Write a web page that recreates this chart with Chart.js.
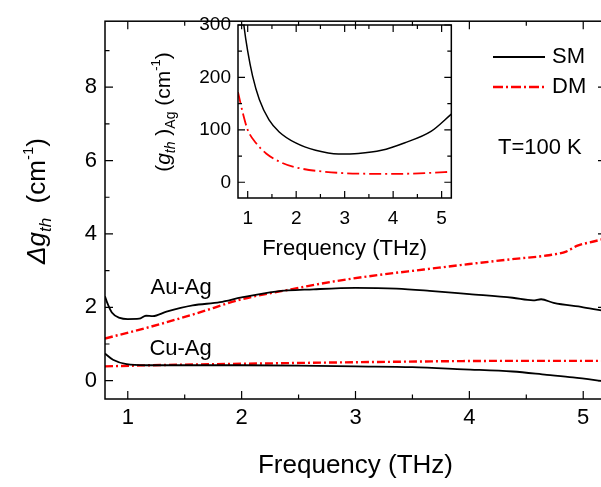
<!DOCTYPE html>
<html>
<head>
<meta charset="utf-8">
<script src="https://cdn.jsdelivr.net/npm/chart.js@4.4.1/dist/chart.umd.min.js"></script>
<style>
  html, body { margin: 0; padding: 0; background: #fff; overflow: hidden; }
  #wrap { position: relative; width: 601px; height: 487px; overflow: hidden; }
  #mainBox { position: absolute; left: 0; top: 0; }
  #insetBox { position: absolute; left: 140px; top: 0; }
</style>
</head>
<body>
<div id="wrap">
  <div id="mainBox"><canvas id="mainChart" width="607" height="487"></canvas></div>
  <div id="insetBox"><canvas id="insetChart" width="316" height="260"></canvas></div>
</div>
<script>
// Au-Ag and Cu-Ag threshold gain difference, 100 K
const auSmFreq = [0.8, 0.82, 0.86, 0.93, 1.0, 1.1, 1.16, 1.22, 1.34, 1.57, 1.81, 2.0, 2.3, 2.63, 3.0, 3.36, 3.65, 4.0, 4.38, 4.56, 4.63, 4.74, 5.0, 5.2];
const auSm     = [2.3, 2.12, 1.86, 1.71, 1.68, 1.69, 1.77, 1.76, 1.88, 2.05, 2.14, 2.27, 2.43, 2.49, 2.53, 2.51, 2.45, 2.36, 2.26, 2.19, 2.22, 2.12, 2.0, 1.89];
const auDmFreq = [0.8, 1.2, 1.6, 2.0, 2.4, 2.8, 3.2, 3.6, 4.0, 4.4, 4.7, 4.85, 4.95, 5.1, 5.2];
const auDm     = [1.15, 1.47, 1.83, 2.22, 2.47, 2.70, 2.88, 3.03, 3.18, 3.32, 3.42, 3.52, 3.68, 3.80, 3.88];
const cuSmFreq = [0.8, 0.87, 0.99, 1.16, 1.5, 2.0, 2.5, 3.0, 3.5, 3.95, 4.38, 4.68, 4.91, 5.2];
const cuSm     = [0.74, 0.57, 0.45, 0.42, 0.42, 0.42, 0.41, 0.39, 0.37, 0.31, 0.25, 0.16, 0.09, -0.02];
const cuDmFreq = [0.8, 1.2, 2.0, 3.2, 4.4, 5.2];
const cuDm     = [0.39, 0.42, 0.46, 0.51, 0.54, 0.54];

// Ag threshold gain (inset)
const agSmFreq = [0.85, 0.92, 1.0, 1.1, 1.24, 1.44, 1.65, 1.99, 2.4, 2.87, 3.28, 3.76, 4.23, 4.78, 5.2];
const agSm     = [360, 300, 250, 203, 158, 119, 96, 75, 61, 54, 55, 61, 75, 97, 130];
const agDmFreq = [0.8, 0.9, 1.0, 1.17, 1.38, 1.71, 2.06, 2.6, 3.28, 4.1, 4.78, 5.2];
const agDm     = [172, 132, 100, 75, 55, 37, 27, 20, 16.5, 16, 18, 20];

const mainXTicks = [1, 2, 3, 4, 5];
const mainXMinor = [1.5, 2.5, 3.5, 4.5];
const mainYTicks = [0, 2, 4, 6, 8];
const mainYMinor = [1, 3, 5, 7, 9];
const insetXTicks = [1, 2, 3, 4, 5];
const insetXMinor = [1.5, 2.5, 3.5, 4.5];
const insetYTicks = [0, 100, 200, 300];
const insetYMinor = [50, 150, 250];

const FONT = "'Liberation Sans', Arial, sans-serif";
const RED = '#ff0000';

function xy(xs, ys) {
    return xs.map((x, i) => ({ x: x, y: ys[i] }));
}

function line(label, xs, ys, color, width, dash) {
    return {
        label: label,
        data: xy(xs, ys),
        borderColor: color,
        borderWidth: width,
        borderDash: dash || [],
        pointRadius: 0,
        fill: false,
        cubicInterpolationMode: 'monotone'
    };
}

// box around the plot with inward ticks on all four sides
function drawFrame(chart, xMinor, yMinor, majorLen, minorLen) {
    const ctx = chart.ctx;
    const a = chart.chartArea;
    const xs = chart.scales.x, ys = chart.scales.y;
    ctx.save();
    ctx.strokeStyle = '#000';
    ctx.lineWidth = 1.5;
    ctx.strokeRect(a.left, a.top, a.right - a.left, a.bottom - a.top);
    ctx.lineWidth = 1.2;
    const markX = (v, len) => {
        const p = xs.getPixelForValue(v);
        ctx.beginPath();
        ctx.moveTo(p, a.bottom); ctx.lineTo(p, a.bottom - len);
        ctx.moveTo(p, a.top); ctx.lineTo(p, a.top + len);
        ctx.stroke();
    };
    const markY = (v, len) => {
        const p = ys.getPixelForValue(v);
        ctx.beginPath();
        ctx.moveTo(a.left, p); ctx.lineTo(a.left + len, p);
        ctx.moveTo(a.right, p); ctx.lineTo(a.right - len, p);
        ctx.stroke();
    };
    xs.ticks.forEach(t => markX(t.value, majorLen));
    ys.ticks.forEach(t => markY(t.value, majorLen));
    xMinor.forEach(v => markX(v, minorLen));
    yMinor.forEach(v => markY(v, minorLen));
    ctx.restore();
}

// text made of pieces: [text, size, italic, baseline shift]
function richText(ctx, pieces, cx, cy, vertical) {
    ctx.save();
    ctx.translate(cx, cy);
    if (vertical) ctx.rotate(-Math.PI / 2);
    ctx.fillStyle = '#000';
    ctx.textBaseline = 'alphabetic';
    ctx.textAlign = 'left';
    const fontOf = p => (p[2] ? 'italic ' : '') + p[1] + 'px ' + FONT;
    let total = 0;
    pieces.forEach(p => { ctx.font = fontOf(p); total += ctx.measureText(p[0]).width; });
    let pos = -total / 2;
    pieces.forEach(p => {
        ctx.font = fontOf(p);
        ctx.fillText(p[0], pos, p[3]);
        pos += ctx.measureText(p[0]).width;
    });
    ctx.restore();
}

function plainText(ctx, text, x, y, size, align) {
    ctx.save();
    ctx.fillStyle = '#000';
    ctx.font = size + 'px ' + FONT;
    ctx.textAlign = align || 'left';
    ctx.textBaseline = 'middle';
    ctx.fillText(text, x, y);
    ctx.restore();
}

const mainDecor = {
    id: 'mainDecor',
    afterDraw(chart) {
        const ctx = chart.ctx;
        const xs = chart.scales.x, ys = chart.scales.y;
        drawFrame(chart, mainXMinor, mainYMinor, 8, 4.5);

        richText(ctx, [
            ['\u0394', 26, true, 9],
            ['g', 26, true, 9],
            ['th', 17, true, 15],
            ['  (cm', 26, false, 9],
            ['-1', 15, false, -3],
            [')', 26, false, 9]
        ], 36, 201, true);
        plainText(ctx, 'Frequency (THz)', (chart.chartArea.left + chart.chartArea.right) / 2, 466, 26, 'center');

        plainText(ctx, 'Au-Ag', xs.getPixelForValue(1.2), ys.getPixelForValue(2.54), 22);
        plainText(ctx, 'Cu-Ag', xs.getPixelForValue(1.19), ys.getPixelForValue(0.87), 22);

        // legend
        const sets = chart.data.datasets;
        [[sets[0], 57], [sets[1], 87]].forEach(([ds, y]) => {
            ctx.save();
            ctx.strokeStyle = ds.borderColor;
            ctx.lineWidth = ds.borderWidth;
            ctx.setLineDash(ds.borderDash.length ? [10, 3, 2, 3] : []);
            ctx.beginPath();
            ctx.moveTo(493, y);
            ctx.lineTo(545, y);
            ctx.stroke();
            ctx.restore();
            plainText(ctx, ds.label, 552, y, 22);
        });
        plainText(ctx, 'T=100 K', 498, 148, 22);
    }
};

const insetDecor = {
    id: 'insetDecor',
    afterDraw(chart) {
        const ctx = chart.ctx;
        drawFrame(chart, insetXMinor, insetYMinor, 7, 4);
        richText(ctx, [
            ['(', 21, false, 7],
            ['g', 21, true, 7],
            ['th', 14, true, 12],
            [' )', 21, false, 7],
            ['Ag', 14, false, 12],
            [' (cm', 21, false, 7],
            ['-1', 13, false, -3],
            [')', 21, false, 7]
        ], 23, 112, true);
        plainText(ctx, 'Frequency (THz)', (chart.chartArea.left + chart.chartArea.right) / 2, 249, 22, 'center');
    }
};

function axisTicks(values) {
    return s => { s.ticks = values.map(v => ({ value: v })); };
}

new Chart(document.getElementById('mainChart'), {
    type: 'line',
    data: {
        datasets: [
            line('SM', auSmFreq, auSm, '#000', 1.8),
            line('DM', auDmFreq, auDm, RED, 2.4, [8, 3, 2, 3]),
            line('SM', cuSmFreq, cuSm, '#000', 1.8),
            line('DM', cuDmFreq, cuDm, RED, 2.4, [8, 3, 2, 3])
        ]
    },
    options: {
        responsive: false,
        animation: false,
        layout: { padding: { left: 0, top: 5, right: 1, bottom: 0 } },
        plugins: { legend: { display: false }, tooltip: { enabled: false } },
        scales: {
            x: {
                type: 'linear', min: 0.8, max: 5.2,
                grid: { display: false, drawTicks: false },
                border: { display: false },
                afterBuildTicks: axisTicks(mainXTicks),
                afterFit: s => { s.height = 88; },
                ticks: { font: { family: FONT, size: 22 }, color: '#000', padding: 6, maxRotation: 0, autoSkip: false }
            },
            y: {
                type: 'linear', min: -0.5, max: 9.8,
                grid: { display: false, drawTicks: false },
                border: { display: false },
                afterBuildTicks: axisTicks(mainYTicks),
                afterFit: s => { s.width = 105; },
                ticks: { font: { family: FONT, size: 22 }, color: '#000', padding: 8, autoSkip: false }
            }
        }
    },
    plugins: [mainDecor]
});

new Chart(document.getElementById('insetChart'), {
    type: 'line',
    data: {
        datasets: [
            line('SM', agSmFreq, agSm, '#000', 1.5),
            line('DM', agDmFreq, agDm, RED, 1.8, [12, 4, 2, 4])
        ]
    },
    options: {
        responsive: false,
        animation: false,
        layout: { padding: { left: 0, top: 25, right: 2, bottom: 0 } },
        plugins: { legend: { display: false }, tooltip: { enabled: false } },
        scales: {
            x: {
                type: 'linear', min: 0.8, max: 5.2,
                grid: { display: false, drawTicks: false },
                border: { display: false },
                afterBuildTicks: axisTicks(insetXTicks),
                afterFit: s => { s.height = 62; },
                ticks: { font: { family: FONT, size: 19 }, color: '#000', padding: 9, maxRotation: 0, autoSkip: false }
            },
            y: {
                type: 'linear', min: -30, max: 300,
                grid: { display: false, drawTicks: false },
                border: { display: false },
                afterBuildTicks: axisTicks(insetYTicks),
                afterFit: s => { s.width = 98; },
                ticks: { font: { family: FONT, size: 19 }, color: '#000', padding: 7, autoSkip: false }
            }
        }
    },
    plugins: [insetDecor]
});
</script>
</body>
</html>
